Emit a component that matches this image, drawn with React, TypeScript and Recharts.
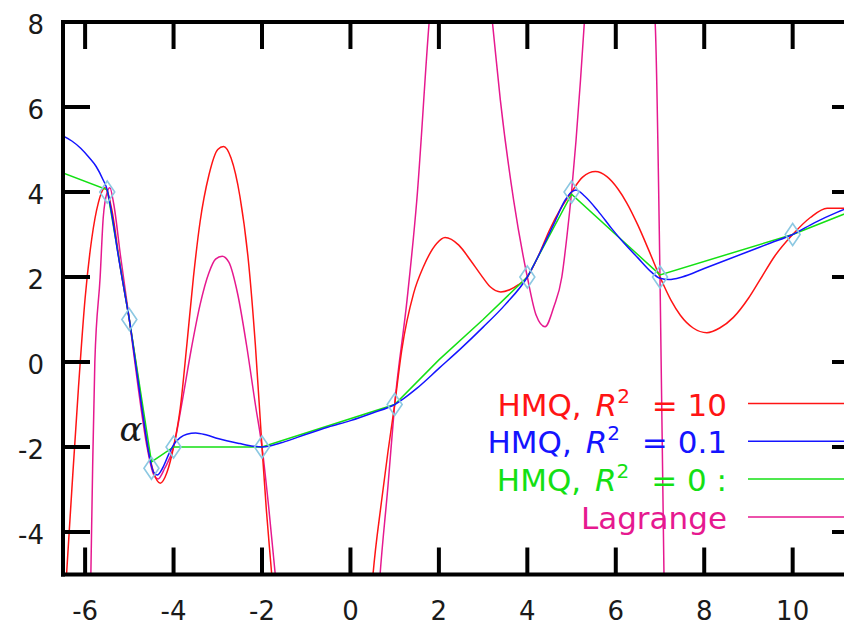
import React from 'react';
import { ComposedChart, Line, Scatter, XAxis, YAxis, Legend, ReferenceDot } from 'recharts';

// ---- axes ----
const X_DOMAIN: [number, number] = [-6.5, 11.5];
const Y_DOMAIN: [number, number] = [-5, 8];
const X_TICKS = [-6, -4, -2, 0, 2, 4, 6, 8, 10];
const Y_TICKS = [-4, -2, 0, 2, 4, 6, 8];

// ---- interpolation knots (diamonds) ----
const KNOT_X = [-5.5, -5, -4.5, -4, -2, 1, 4, 5, 7, 10];
const KNOT_Y = [4, 1, -2.5, -2, -2, -1, 2, 4, 2, 3];

// ---- HMQ, R^2 = 10 (red) ----
const HMQ10_X = [-6.5, -6.42, -6.3, -6.15, -6.0, -5.85, -5.7, -5.55, -5.4, -5.2, -5.0, -4.8, -4.6, -4.45, -4.3, -4.15, -4.0, -3.85, -3.7, -3.55, -3.4, -3.2, -3.0, -2.87, -2.7, -2.5, -2.3, -2.15, -2.0, -1.9, -1.78, -1.6, -1.0, 0.0, 0.4, 0.51, 0.7, 0.85, 1.0, 1.16, 1.43, 1.65, 1.95, 2.14, 2.45, 2.71, 2.95, 3.16, 3.4, 3.6, 3.8, 4.0, 4.25, 4.5, 4.75, 5.0, 5.25, 5.54, 5.8, 6.05, 6.25, 6.5, 6.75, 7.0, 7.25, 7.46, 7.75, 8.06, 8.35, 8.66, 9.0, 9.27, 9.6, 10.0, 10.4, 10.78, 11.5];
const HMQ10_Y = [-6.3, -5, -3, -0.6, 1.5, 2.9, 3.75, 4.1, 3.6, 2.2, 1, -0.4, -1.9, -2.6, -2.85, -2.6, -2, -1.1, 0.4, 2, 3.3, 4.4, 5.0, 5.07, 4.8, 3.9, 2.3, 0.4, -2, -3.5, -5, -7.5, -12, -12, -6.5, -5, -3.3, -2.1, -1, 0.28, 1.62, 2.24, 2.79, 2.93, 2.75, 2.4, 2.05, 1.77, 1.65, 1.7, 1.82, 2, 2.5, 3.1, 3.6, 4, 4.35, 4.48, 4.36, 4.07, 3.74, 3.22, 2.62, 2, 1.45, 1.1, 0.8, 0.69, 0.8, 1.05, 1.5, 1.95, 2.5, 3, 3.4, 3.62, 3.62];

// ---- HMQ, R^2 = 0.1 (blue) ----
const HMQ01_X = [-6.5, -6.3, -6.1, -5.9, -5.75, -5.6, -5.5, -5.4, -5.25, -5.1, -5.0, -4.85, -4.7, -4.55, -4.45, -4.37, -4.25, -4.1, -4.0, -3.85, -3.7, -3.5, -3.25, -3.0, -2.5, -2.2, -2.0, -1.8, -1.5, -1.0, -0.5, 0.0, 0.5, 1.0, 1.5, 2.0, 2.5, 3.0, 3.5, 4.0, 4.3, 4.6, 4.85, 5.0, 5.1, 5.3, 5.6, 5.9, 6.2, 6.5, 6.8, 7.0, 7.2, 7.5, 8.0, 8.5, 9.0, 9.5, 10.0, 10.5, 11.0, 11.5];
const HMQ01_Y = [5.32, 5.2, 5.03, 4.8, 4.6, 4.3, 4.05, 3.5, 2.5, 1.6, 1, -0.1, -1.2, -2.2, -2.6, -2.66, -2.5, -2.15, -1.95, -1.78, -1.7, -1.67, -1.72, -1.8, -1.92, -1.98, -2.0, -1.97, -1.88, -1.7, -1.53, -1.38, -1.2, -1, -0.62, -0.15, 0.32, 0.82, 1.35, 2.0, 2.6, 3.25, 3.8, 4.0, 4.05, 3.9, 3.55, 3.15, 2.78, 2.45, 2.12, 1.97, 1.94, 2.0, 2.2, 2.4, 2.6, 2.8, 3.0, 3.28, 3.52, 3.72];

// ---- HMQ, R^2 = 0 (green) ----
const HMQ0_X = [-6.5, -5.5, -5.0, -4.5, -4.0, -2.0, 1.0, 2.0, 3.0, 4.0, 5.0, 7.0, 10.0, 11.5];
const HMQ0_Y = [4.45, 4.05, 1, -2.35, -2, -2, -1, 0.05, 1.0, 2, 3.95, 2.05, 3, 3.62];

// ---- Lagrange (magenta) ----
const LAG_X = [-6.1, -5.87, -5.83, -5.78, -5.66, -5.59, -5.5, -5.44, -5.35, -5.2, -5.0, -4.8, -4.6, -4.45, -4.35, -4.2, -4.0, -3.8, -3.6, -3.4, -3.2, -3.05, -2.9, -2.75, -2.55, -2.35, -2.15, -2.0, -1.85, -1.7, -1.5, -1.0, 0.3, 0.67, 0.85, 1.0, 1.28, 1.5, 1.78, 2.0, 2.5, 3.0, 3.21, 3.39, 3.69, 4.0, 4.2, 4.4, 4.6, 4.78, 4.9, 5.0, 5.1, 5.2, 5.29, 5.5, 6.0, 6.5, 6.89, 7.0, 7.09, 7.2];
const LAG_Y = [-15, -5, -2.5, 0, 2, 3.4, 4.0, 4.1, 3.7, 2.5, 1, -0.6, -2.0, -2.65, -2.75, -2.5, -2, -0.9, 0.3, 1.35, 2.1, 2.42, 2.49, 2.35, 1.6, 0.4, -1.0, -2, -3.4, -5, -7.5, -12, -12, -5, -2.9, -1, 1.46, 3.8, 8, 10.5, 14, 10, 8, 6.16, 3.81, 2, 1.1, 0.83, 1.3, 2.0, 3.0, 4, 5.2, 6.6, 8, 11, 14, 12, 8, 2, -5, -12];

// ---- annotation ----
const ALPHA_X = -4.96;
const ALPHA_Y = -1.58;

const zip = (xs: number[], ys: number[]) => xs.map((x, i) => ({ x, y: ys[i] }));

const SERIES = [
  { key: 'lag', name: 'Lagrange', color: '#e6198f', data: zip(LAG_X, LAG_Y), curve: 'monotone' },
  { key: 'r10', name: 'HMQ, R^2 = 10', color: '#ff1414', data: zip(HMQ10_X, HMQ10_Y), curve: 'monotone' },
  { key: 'r0', name: 'HMQ, R^2 = 0 :', color: '#14e014', data: zip(HMQ0_X, HMQ0_Y), curve: 'linear' },
  { key: 'r01', name: 'HMQ, R^2 = 0.1', color: '#1414ff', data: zip(HMQ01_X, HMQ01_Y), curve: 'monotone' },
];

const LEGEND_ORDER = ['r10', 'r01', 'r0', 'lag'];
const LEGEND_SUFFIX: Record<string, string> = { r10: ' = 10', r01: ' = 0.1', r0: ' = 0 :' };

const W = 900;
const H = 629;
const FONT = 'DejaVu Sans';
const TXT = '#1a1a1a';

const BottomTick = (p: any) => (
  <g>
    <line x1={p.x} y1={p.y} x2={p.x} y2={p.y - 27} stroke="#000" strokeWidth={4} />
    <text x={p.x} y={p.y + 45} textAnchor="middle" fontSize={26} fontFamily={FONT} fill={TXT}>
      {p.payload.value}
    </text>
  </g>
);
const TopTick = (p: any) => (
  <line x1={p.x} y1={p.y} x2={p.x} y2={p.y + 27} stroke="#000" strokeWidth={4} />
);
const LeftTick = (p: any) => (
  <g>
    <line x1={p.x} y1={p.y} x2={p.x + 27} y2={p.y} stroke="#000" strokeWidth={4} />
    <text x={p.x - 19} y={p.y + 12} textAnchor="end" fontSize={26} fontFamily={FONT} fill={TXT}>
      {p.payload.value}
    </text>
  </g>
);
const RightTick = (p: any) => (
  <line x1={p.x} y1={p.y} x2={p.x - 27} y2={p.y} stroke="#000" strokeWidth={4} />
);

const Diamond = (p: any) => {
  const { cx, cy } = p;
  return (
    <path
      d={`M${cx},${cy - 11} L${cx + 7.5},${cy} L${cx},${cy + 11} L${cx - 7.5},${cy} Z`}
      fill="none"
      stroke="#8cc8e2"
      strokeWidth={1.6}
    />
  );
};

const LegendBox = () => (
  <svg width={W} height={H} style={{ position: 'absolute', left: 0, top: 0, overflow: 'visible' }}>
    {LEGEND_ORDER.map((k, i) => {
      const s = SERIES.find((q) => q.key === k)!;
      const ly = 403.5 + i * 37.8;
      return (
        <g key={k}>
          <line x1={748} x2={W} y1={ly} y2={ly} stroke={s.color} strokeWidth={1.5} />
          {k === 'lag' ? (
            <text x={727} y={ly + 12} textAnchor="end" fontSize={31} fontFamily={FONT} fill={s.color}>
              {s.name}
            </text>
          ) : (
            <text x={727} y={ly + 12} textAnchor="end" fontSize={31} fontFamily={FONT} fill={s.color}>
              {'HMQ, '}
              <tspan fontStyle="italic" dx={4}>R</tspan>
              <tspan fontSize={20} dy={-13}>2</tspan>
              <tspan dy={13} dx={12}>{LEGEND_SUFFIX[k]}</tspan>
            </text>
          )}
        </g>
      );
    })}
  </svg>
);

export default function App() {
  const knots = zip(KNOT_X, KNOT_Y);
  const axisLine = { stroke: '#000', strokeWidth: 4, strokeLinecap: 'square' as const };
  return (
    <div style={{ position: 'absolute', left: 0, top: 0, width: 844, height: 629, overflow: 'hidden', background: '#fff' }}>
      <ComposedChart width={W} height={H} margin={{ top: 21, left: 62, right: 40, bottom: 53.5 }}>
        <XAxis xAxisId="b" orientation="bottom" type="number" dataKey="x" domain={X_DOMAIN} ticks={X_TICKS}
          allowDataOverflow height={1} tickSize={0} tickMargin={0} tickLine={false} axisLine={axisLine}
          tick={<BottomTick />} interval={0} />
        <XAxis xAxisId="t" orientation="top" type="number" dataKey="x" domain={X_DOMAIN} ticks={X_TICKS}
          allowDataOverflow height={1} tickSize={0} tickMargin={0} tickLine={false} axisLine={axisLine}
          tick={<TopTick />} interval={0} />
        <YAxis yAxisId="l" orientation="left" type="number" dataKey="y" domain={Y_DOMAIN} ticks={Y_TICKS}
          allowDataOverflow width={1} tickSize={0} tickMargin={0} tickLine={false} axisLine={axisLine}
          tick={<LeftTick />} interval={0} />
        <YAxis yAxisId="r" orientation="right" type="number" dataKey="y" domain={Y_DOMAIN} ticks={Y_TICKS}
          allowDataOverflow width={1} tickSize={0} tickMargin={0} tickLine={false} axisLine={axisLine}
          tick={<RightTick />} interval={0} />
        {SERIES.map((s) => (
          <Line key={s.key} xAxisId="b" yAxisId="l" data={s.data} dataKey="y" name={s.name}
            type={s.curve as any} stroke={s.color} strokeWidth={1.5} dot={false} activeDot={false}
            isAnimationActive={false} />
        ))}
        <Scatter xAxisId="b" yAxisId="l" data={knots} dataKey="y" shape={<Diamond />}
          isAnimationActive={false} legendType="none" />
        <ReferenceDot xAxisId="b" yAxisId="l" x={ALPHA_X} y={ALPHA_Y} r={0} fill="none" stroke="none"
          label={{ value: 'α', position: 'center', fontSize: 34, fontFamily: 'DejaVu Serif', fontStyle: 'italic', fill: TXT }} />
        <Legend layout="vertical" align="center" verticalAlign="middle" content={<LegendBox />}
          wrapperStyle={{ position: 'absolute', left: 0, top: 0, width: W, height: H, pointerEvents: 'none' }} />
      </ComposedChart>
    </div>
  );
}
